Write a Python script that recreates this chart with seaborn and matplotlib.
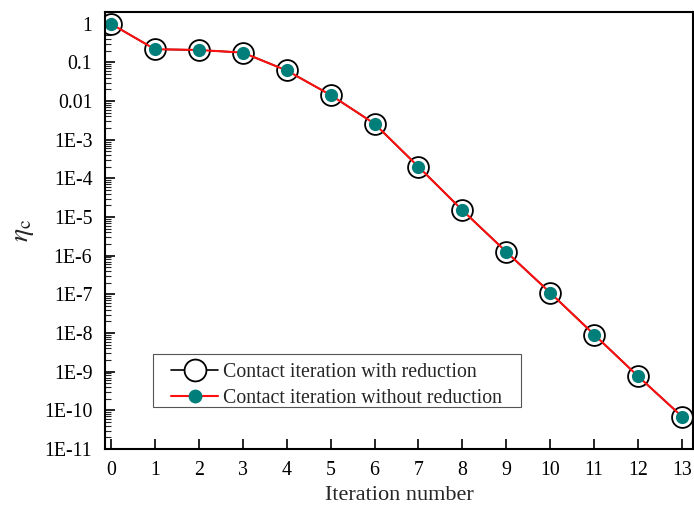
import matplotlib
matplotlib.use("Agg")
import matplotlib.pyplot as plt
import seaborn as sns
import pandas as pd
import numpy as np
from matplotlib.ticker import LogLocator, NullFormatter
from matplotlib.patches import Rectangle

iterations = [0, 1, 2, 3, 4, 5, 6, 7, 8, 9, 10, 11, 12, 13]
eta_with = [1.0, 0.22, 0.21, 0.18, 0.062, 0.0144, 2.6e-3, 2.0e-4, 1.5e-5,
            1.26e-6, 1.1e-7, 9.1e-9, 7.6e-10, 6.9e-11]
eta_without = [1.0, 0.22, 0.21, 0.18, 0.062, 0.0144, 2.6e-3, 2.0e-4, 1.5e-5,
               1.26e-6, 1.1e-7, 9.1e-9, 7.6e-10, 6.9e-11]
ytick_vals = [1, 0.1, 0.01, 1e-3, 1e-4, 1e-5, 1e-6, 1e-7, 1e-8, 1e-9, 1e-10, 1e-11]
ytick_labels = ["1", "0.1", "0.01", "1E-3", "1E-4", "1E-5", "1E-6", "1E-7",
                "1E-8", "1E-9", "1E-10", "1E-11"]
series_names = ["Contact iteration with reduction", "Contact iteration without reduction"]

sns.set_style("ticks")
plt.rcParams["font.family"] = ["Liberation Serif", "DejaVu Serif"]
plt.rcParams["mathtext.fontset"] = "stix"

df1 = pd.DataFrame({"x": iterations, "y": eta_with})
df2 = pd.DataFrame({"x": iterations, "y": eta_without})

fig = plt.figure(figsize=(6.94, 5.07), dpi=100)
ax = fig.add_axes([0.151, 0.1144, 0.8476, 0.8616])

sns.lineplot(data=df1, x="x", y="y", ax=ax, color="black", lw=1.2,
             marker="o", markersize=15, markerfacecolor="white",
             markeredgecolor="black", markeredgewidth=1.3,
             label=series_names[0])
sns.lineplot(data=df2, x="x", y="y", ax=ax, color="#ff1010", lw=1.5,
             marker="o", markersize=9.5, markerfacecolor="#007f7a",
             markeredgecolor="#007f7a", markeredgewidth=0,
             label=series_names[1])

ax.set_yscale("log")
ax.set_ylim(1e-11, 2.0)
ax.set_xlim(-0.14, 13.25)
ax.set_xticks(iterations)
ax.set_xticklabels([str(i) for i in iterations], fontsize=14.3)
ax.set_yticks(ytick_vals)
ax.set_yticklabels(ytick_labels, fontsize=14.3)
ax.yaxis.set_minor_locator(LogLocator(base=10, subs=np.arange(2, 10), numticks=100))
ax.yaxis.set_minor_formatter(NullFormatter())
ax.tick_params(axis="x", which="major", direction="in", length=7, width=1.2,
               colors="black", pad=9)
ax.tick_params(axis="y", which="major", direction="in", length=7, width=1.2,
               colors="black", pad=9)
ax.tick_params(axis="y", which="minor", direction="in", length=4, width=0.8)
for s in ax.spines.values():
    s.set_linewidth(1.5)
    s.set_color("black")

ax.set_xlabel("Iteration number", fontsize=16, labelpad=4)
ax.set_ylabel(r"$\eta_{\mathrm{c}}$", fontsize=20, labelpad=6)

# legend box frame
ax.add_patch(Rectangle((0.0816, 0.0961), 0.626, 0.1213, transform=ax.transAxes,
                       facecolor="white", edgecolor="#555555", lw=0.8, zorder=4))
leg = ax.legend(loc="center left", bbox_to_anchor=(0.1122, 0.146), fontsize=14.3,
                frameon=False, handlelength=2.4, borderpad=0.0, labelspacing=0.35,
                handletextpad=0.25, borderaxespad=0, markerscale=1.05)
leg.set_zorder(5)

fig.savefig("out.png", dpi=100)
